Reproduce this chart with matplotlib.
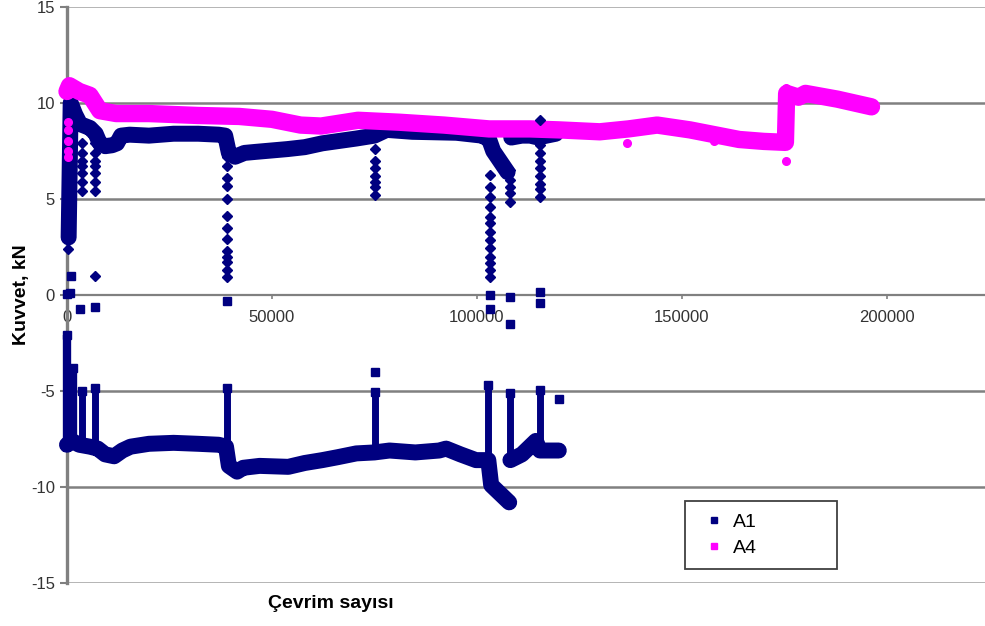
import numpy as np
import matplotlib.pyplot as plt
from matplotlib.lines import Line2D

plt.rcParams['font.family'] = ['Liberation Sans', 'DejaVu Sans']
plt.rcParams['axes.unicode_minus'] = False

NAVY = '#000080'
MAGENTA = '#FF00FF'
GREY = '#808080'

#### A4 (magenta) - band ####
a4_x = [0, 600, 3000, 5600, 8000, 12000, 20000, 32000, 42000, 50000, 57000, 62000,
        71000, 81000, 92000, 103000, 113000, 120000, 130000, 137000, 144000, 152000,
        158000, 164000, 170000, 175300, 175600, 178500, 180200, 188000, 196300]
a4_y = [10.6, 10.9, 10.6, 10.4, 9.6, 9.45, 9.45, 9.35, 9.3, 9.15, 8.85, 8.8,
        9.1, 9.0, 8.85, 8.65, 8.65, 8.6, 8.5, 8.65, 8.85, 8.6,
        8.35, 8.1, 8.0, 7.95, 10.5, 10.3, 10.5, 10.2, 9.8]
# scattered A4 points
a4_px = [200, 200, 200, 200, 200, 136600, 157800, 175500, 175500]
a4_py = [9.0, 8.6, 8.0, 7.5, 7.2, 7.9, 8.0, 7.0, 10.8]

#### A1 (navy) - tension side band ####
a1_pos_x = [400, 900, 2000, 3200, 5600, 7000, 8000, 9300, 11000, 12200, 13200, 15300,
            20000, 26000, 32000, 37000, 38600, 39500, 41000, 43300, 45800, 53800, 58000,
            62300, 70600, 75000, 78000, 84300, 95000, 101300, 103000, 104000, 107500,
            np.nan, 108400, 111000, 113000, 115000, 117000, 119300]
a1_pos_y = [3.0, 10.0, 9.4, 8.9, 8.7, 8.4, 7.9, 7.75, 7.8, 7.9, 8.3, 8.35,
            8.3, 8.4, 8.4, 8.35, 8.3, 7.4, 7.2, 7.4, 7.45, 7.6, 7.7,
            7.9, 8.15, 8.3, 8.6, 8.5, 8.45, 8.3, 8.1, 7.5, 6.4,
            np.nan, 8.2, 8.3, 8.3, 8.2, 8.3, 8.4]

# dropped readings (diamond columns)
drop_x = ([300] * 1 + [3600] * 7 + [6800] * 8 + [39000] * 13 + [75200] * 7
          + [103200] * 13 + [108100] * 5 + [115400] * 9)
drop_y = ([2.4]
          + [7.9, 7.4, 7.0, 6.7, 6.35, 5.9, 5.4]
          + [7.9, 7.4, 7.0, 6.7, 6.35, 5.9, 5.4, 1.0]
          + [7.2, 6.7, 6.1, 5.7, 5.0, 4.1, 3.5, 2.9, 2.3, 2.0, 1.7, 1.3, 0.95]
          + [7.6, 7.0, 6.6, 6.2, 5.9, 5.6, 5.2]
          + [6.25, 5.6, 5.1, 4.6, 4.05, 3.75, 3.3, 2.85, 2.45, 2.0, 1.65, 1.3, 0.95]
          + [6.5, 6.0, 5.6, 5.3, 4.85]
          + [9.1, 7.8, 7.4, 7.0, 6.6, 6.2, 5.8, 5.5, 5.1])

#### A1 (navy) - compression side band ####
a1_neg_x = [0, 1200, 3000, 5600, 7500, 9300, 11500, 13500, 15500, 20000, 26000, 32000,
            37000, 38800, 39500, 41500, 43000, 47000, 54000, 58000, 62300, 66000, 70600,
            75000, 78700, 85000, 90800, 92500, 96000, 99800, 102800, 103500, 107900,
            np.nan, 108200, 111000, 114400, 115400, 118000, 120000]
a1_neg_y = [-7.8, -7.6, -7.8, -7.9, -8.0, -8.3, -8.4, -8.1, -7.9, -7.75, -7.7, -7.75,
            -7.8, -7.9, -8.9, -9.2, -9.0, -8.9, -8.95, -8.75, -8.6, -8.45, -8.25,
            -8.2, -8.1, -8.2, -8.1, -8.0, -8.3, -8.6, -8.6, -9.9, -10.8,
            np.nan, -8.6, -8.3, -7.6, -8.1, -8.1, -8.1]

# upward spikes in the compression band
spike_x = [0, 1500, 3600, 6800, 39000, 75200, 102800, 108100, 115400]
spike_top = [-2.1, -3.8, -5.0, -4.85, -4.85, -5.05, -4.7, -5.1, -4.95]
spike_base = [-8.2, -8.0, -7.9, -7.9, -7.9, -8.2, -8.6, -8.6, -8.0]

# loose square readings
sq_x = [0, 700, 900, 3200, 6800, 39000, 75200, 103200, 103200, 108100, 108100,
        115400, 115400, 120000]
sq_y = [0.05, 0.1, 1.0, -0.75, -0.6, -0.3, -4.0, 0.0, -0.75, -0.1, -1.5,
        0.15, -0.4, -5.4]

ytick_vals = [-15, -10, -5, 0, 5, 10, 15]
xtick_vals = [0, 50000, 100000, 150000, 200000]
xtick_labels = ['0', '50000', '100000', '150000', '200000']


fig = plt.figure(figsize=(9.85, 6.26), dpi=100)
ax = fig.add_axes([67/985, 43/626, 918/985, 576/626])

for yv in ytick_vals:
    if abs(yv) == 15:
        ax.axhline(yv, color='#a8a8a8', lw=1.2, zorder=1)
    elif yv != 0:
        ax.axhline(yv, color=GREY, lw=1.8, zorder=1)

# navy bands
ax.plot(a1_pos_x, a1_pos_y, color=NAVY, lw=11.5, solid_joinstyle='round',
        solid_capstyle='round', zorder=3, clip_on=False)
ax.plot(a1_neg_x, a1_neg_y, color=NAVY, lw=11.5, solid_joinstyle='round',
        solid_capstyle='round', zorder=3, clip_on=False)
ax.vlines(spike_x, spike_base, spike_top, color=NAVY,
          lw=[6, 6, 5, 5, 5, 5, 5, 5, 5], zorder=3, clip_on=False)
ax.plot(spike_x, spike_top, 's', color=NAVY, ms=5.5, zorder=3, clip_on=False)

# magenta band
ax.plot(a4_x, a4_y, color=MAGENTA, lw=12.5, solid_joinstyle='round',
        solid_capstyle='round', zorder=4, clip_on=False)
ax.plot(a4_px, a4_py, 'o', color=MAGENTA, ms=5.5, zorder=4, clip_on=False)

ax.plot(drop_x, drop_y, 'D', color=NAVY, ms=5, zorder=5, clip_on=False)
ax.plot(sq_x, sq_y, 's', color=NAVY, ms=5.5, zorder=5, clip_on=False)

ax.set_xlim(0, 224000)
ax.set_ylim(-15, 15)
ax.set_yticks(ytick_vals)
ax.set_xticks(xtick_vals)
ax.set_xticklabels(xtick_labels)

for s in ['top', 'right']:
    ax.spines[s].set_visible(False)
ax.spines['bottom'].set_position(('data', 0))
ax.spines['bottom'].set_color(GREY)
ax.spines['bottom'].set_linewidth(1.6)
ax.spines['left'].set_color(GREY)
ax.spines['left'].set_linewidth(2.4)

ax.tick_params(axis='y', direction='out', length=5, width=1.5, color=GREY,
               labelsize=12, labelcolor='#333333', pad=3.6)
ax.tick_params(axis='x', direction='out', length=3, width=1.2, color=GREY,
               labelsize=12, labelcolor='#333333', pad=8)

ax.set_ylabel('Kuvvet, kN', fontsize=14, fontweight='bold')
ax.yaxis.set_label_coords(-(67 - 30)/918, 0.5)
ax.set_xlabel('Çevrim sayısı', fontsize=14, fontweight='bold')
ax.xaxis.set_label_coords((331 - 67)/918, -(595 - 583)/576)

handles = [Line2D([], [], marker='s', color=NAVY, ls='none', ms=4, label='A1'),
           Line2D([], [], marker='s', color=MAGENTA, ls='none', ms=4, label='A4')]
leg = ax.legend(handles=handles, loc='center', mode='expand',
                bbox_to_anchor=(685/985, 1 - 535/626, 152/985, 0),
                bbox_transform=fig.transFigure, fontsize=14, borderpad=0.6,
                handlelength=1.8, handletextpad=0.05, labelspacing=0.45,
                fancybox=False, framealpha=1, edgecolor='#404040', borderaxespad=0)
leg.get_frame().set_linewidth(1.3)

fig.savefig('out.png', dpi=100)
